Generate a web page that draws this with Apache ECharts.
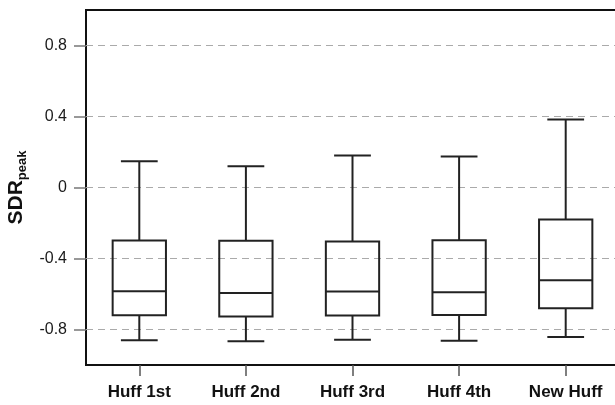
<!DOCTYPE html>
<html>
<head>
<meta charset="utf-8">
<script src="https://cdn.jsdelivr.net/npm/echarts@6/dist/echarts.min.js"></script>
<style>html,body{margin:0;padding:0;background:#fff}#c{width:615px;height:405px}</style>
</head>
<body>
<div id="c"></div>
<script>
var categories = ['Huff 1st', 'Huff 2nd', 'Huff 3rd', 'Huff 4th', 'New Huff'];
var whiskerLow = [-0.86, -0.866, -0.858, -0.864, -0.842];
var q1 = [-0.72, -0.727, -0.721, -0.719, -0.68];
var median = [-0.584, -0.595, -0.586, -0.59, -0.522];
var q3 = [-0.299, -0.30, -0.304, -0.297, -0.18];
var whiskerHigh = [0.148, 0.12, 0.18, 0.175, 0.383];
var yTicks = [-0.8, -0.4, 0, 0.4, 0.8];

var boxData = categories.map(function (c, i) {
  return [i, whiskerLow[i], q1[i], median[i], q3[i], whiskerHigh[i]];
});

var chart = echarts.init(document.getElementById('c'), null, {renderer: 'canvas'});
var font = 'Arial, "Liberation Sans", sans-serif';
var lineColor = '#222';

function renderItem(params, api) {
  var idx = api.value(0);
  var band = api.size([1, 0])[0];
  var boxW = band * 0.5;
  var capW = band * 0.345;
  var pLow = api.coord([idx, api.value(1)]);
  var pQ1 = api.coord([idx, api.value(2)]);
  var pMed = api.coord([idx, api.value(3)]);
  var pQ3 = api.coord([idx, api.value(4)]);
  var pHigh = api.coord([idx, api.value(5)]);
  var x = pMed[0];
  var st = {stroke: lineColor, lineWidth: 2, fill: null};
  return {
    type: 'group',
    children: [
      {type: 'line', shape: {x1: x, y1: pHigh[1], x2: x, y2: pQ3[1]}, style: st},
      {type: 'line', shape: {x1: x, y1: pQ1[1], x2: x, y2: pLow[1]}, style: st},
      {type: 'line', shape: {x1: x - capW / 2, y1: pHigh[1], x2: x + capW / 2, y2: pHigh[1]}, style: st},
      {type: 'line', shape: {x1: x - capW / 2, y1: pLow[1], x2: x + capW / 2, y2: pLow[1]}, style: st},
      {type: 'rect', shape: {x: x - boxW / 2, y: pQ3[1], width: boxW, height: pQ1[1] - pQ3[1]}, style: st},
      {type: 'line', shape: {x1: x - boxW / 2, y1: pMed[1], x2: x + boxW / 2, y2: pMed[1]}, style: st}
    ]
  };
}

chart.setOption({
  animation: false,
  backgroundColor: '#fff',
  grid: {left: 86, right: -4, top: 10, bottom: 40, show: true, borderColor: '#111', borderWidth: 2, containLabel: false, outerBoundsMode: 'none'},
  xAxis: {
    type: 'category',
    data: categories,
    boundaryGap: true,
    axisLine: {show: true, onZero: false, lineStyle: {color: '#111', width: 2}},
    axisTick: {show: true, alignWithLabel: true, length: 11, lineStyle: {color: '#555', width: 1.5}},
    axisLabel: {margin: 19, fontFamily: font, fontSize: 17, fontWeight: 'bold', color: '#111'},
    splitLine: {show: false}
  },
  yAxis: {
    type: 'value',
    min: -1,
    max: 1,
    interval: 0.2,
    axisLine: {show: true, onZero: false, lineStyle: {color: '#111', width: 2}},
    axisTick: {show: true, length: 12, customValues: yTicks, lineStyle: {color: '#777', width: 1.5}},
    axisLabel: {margin: 19, fontFamily: font, fontSize: 16, color: '#1a1a1a', customValues: yTicks,
      formatter: function (v) { return Math.abs(v) < 1e-9 ? '0' : String(Math.round(v * 10) / 10); }},
    splitLine: {show: false},
    name: '{a|SDR}{b|peak}',
    nameLocation: 'middle',
    nameRotate: 90,
    nameGap: 57,
    nameTextStyle: {
      rich: {
        a: {fontFamily: font, fontSize: 21, fontWeight: 'bold', color: '#111'},
        b: {fontFamily: font, fontSize: 13, fontWeight: 'bold', color: '#111', padding: [12, 0, 0, 0]}
      }
    }
  },
  series: [{
    type: 'custom',
    renderItem: renderItem,
    encode: {x: 0, y: [1, 2, 3, 4, 5]},
    data: boxData,
    z: 5,
    markLine: {
      silent: true,
      symbol: 'none',
      z: 1,
      label: {show: false},
      lineStyle: {color: '#aaa', type: [7, 5], width: 1.2},
      data: yTicks.map(function (v) { return {yAxis: v}; })
    }
  }]
});
</script>
</body>
</html>
